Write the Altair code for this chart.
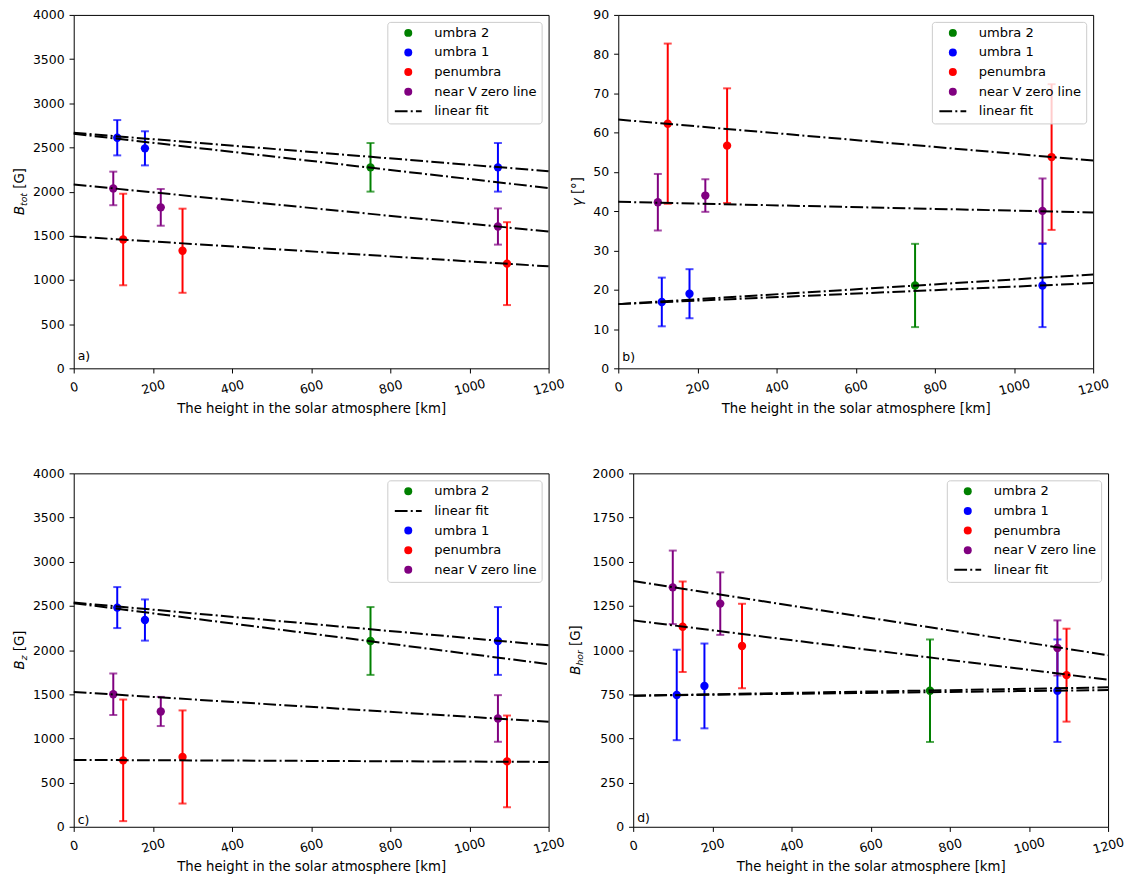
import altair as alt
import pandas as pd

# ---------------- data ----------------
heights = [110, 180, 750, 1072, 100, 220, 1072, 125, 275, 1095]
groups = ["umbra 1", "umbra 1", "umbra 2", "umbra 1",
          "near V zero line", "near V zero line", "near V zero line",
          "penumbra", "penumbra", "penumbra"]

btot_val = [2610, 2490, 2275, 2275, 2036, 1822, 1605, 1458, 1331, 1185]
btot_err = [200, 193, 275, 275, 190, 208, 205, 518, 476, 469]
gamma_val = [16.9, 19.0, 21.1, 21.1, 42.3, 44.0, 40.1, 62.3, 56.7, 53.8]
gamma_err = [6.2, 6.25, 10.6, 10.6, 7.2, 4.15, 8.25, 20.4, 14.6, 18.55]
bz_val = [2481, 2340, 2103, 2103, 1500, 1305, 1226, 752, 790, 740]
bz_err = [232, 233, 384, 384, 235, 165, 264, 688, 527, 519]
bhor_val = [746, 797, 770, 770, 1355, 1263, 1012, 1132, 1023, 858]
bhor_err = [256, 240, 290, 290, 208, 177, 156, 256, 239, 263]

fit_groups = ["umbra 1", "umbra 2", "near V zero line", "penumbra"]
fit_heights = [0, 1200]
btot_fit_start = [2666, 2655, 2081, 1492]
btot_fit_end = [2231, 2040, 1548, 1154]
gamma_fit_start = [16.35, 16.35, 42.4, 63.35]
gamma_fit_end = [21.7, 23.9, 39.7, 52.9]
bz_fit_start = [2538, 2531, 1526, 757]
bz_fit_end = [2054, 1841, 1188, 734]
bhor_fit_start = [742, 742, 1391, 1168]
bhor_fit_end = [774, 789, 971, 832]

legend_order_std = ["umbra 2", "umbra 1", "penumbra", "near V zero line", "linear fit"]
legend_order_c = ["umbra 2", "linear fit", "umbra 1", "penumbra", "near V zero line"]
group_colors = {"umbra 2": "#008000", "umbra 1": "#0000ff", "penumbra": "#ff0000",
                "near V zero line": "#800080", "linear fit": "#000000"}

x_ticks = [0, 200, 400, 600, 800, 1000, 1200]
x_title = "The height in the solar atmosphere [km]"

# ---------------- styling ----------------
W, H = 477, 355
TICK_FS = 12.5
TITLE_FS = 13.33
SUB_FS = 9.33
FIT_PATH = ("M-3.375,-0.25H-0.175V0.25H-3.375Z "
            "M0.625,-0.25H1.125V0.25H0.625Z "
            "M1.925,-0.25H3.375V0.25H1.925Z")


def panel(vals, errs, f0, f1, ymax, ystep, order, title_parts, title_x, label, label_dy):
    df = pd.DataFrame({
        "h": heights, "v": vals,
        "lo": [v - e for v, e in zip(vals, errs)],
        "hi": [v + e for v, e in zip(vals, errs)],
        "group": groups,
        "col": [group_colors[g] for g in groups],
    })
    rows = []
    for g, a, b in zip(fit_groups, f0, f1):
        rows.append({"fit": g, "h": fit_heights[0], "v": a})
        rows.append({"fit": g, "h": fit_heights[1], "v": b})
    fit = pd.DataFrame(rows)

    yvals = list(range(0, ymax + 1, ystep))

    xenc = alt.X("h:Q", scale=alt.Scale(domain=[0, 1200], nice=False, zero=False),
                 axis=alt.Axis(values=x_ticks, format="d", title=x_title, labelAngle=345,
                               labelAlign="center", labelBaseline="middle",
                               labelPadding=14, labelFlush=False, labelOverlap=False,
                               titleY=40, titleBaseline="middle"))
    yscale = alt.Scale(domain=[0, ymax], nice=False, zero=False)
    yaxis = alt.Axis(values=yvals, format="d", title=None, labelPadding=5,
                     labelFlush=False, labelOverlap=False)

    err = alt.Chart(df).mark_errorbar(ticks=True, size=8, thickness=2).encode(
        x=xenc,
        y=alt.Y("lo:Q", scale=yscale, axis=yaxis),
        y2="hi:Q",
        color=alt.Color("col:N", scale=None),
    )
    leg = alt.Legend(title=None, orient="top-right", offset=7)
    pts = alt.Chart(df).mark_point(filled=True, size=70, opacity=1).encode(
        x=xenc,
        y=alt.Y("v:Q", scale=yscale, axis=yaxis),
        color=alt.Color("group:N",
                        scale=alt.Scale(domain=order, range=[group_colors[g] for g in order]),
                        legend=leg),
        shape=alt.Shape("group:N",
                        scale=alt.Scale(domain=order,
                                        range=[FIT_PATH if g == "linear fit" else "circle" for g in order]),
                        legend=leg),
    )
    lines = alt.Chart(fit).mark_line(color="black", strokeDash=[12.8, 3.2, 2, 3.2],
                                     strokeWidth=2).encode(
        x=xenc,
        y=alt.Y("v:Q", scale=yscale, axis=yaxis),
        detail="fit:N",
    )
    lab = alt.Chart(pd.DataFrame({"t": [label]})).mark_text(
        align="left", baseline="middle", fontSize=TICK_FS, color="black").encode(
        text="t:N", x=alt.value(4), y=alt.value(H - label_dy))

    layers = [err, pts, lines, lab]
    for txt, fs, style, dx, dy in title_parts:
        layers.append(
            alt.Chart(pd.DataFrame({"t": [txt]})).mark_text(
                align="left", baseline="alphabetic", angle=270, fontSize=fs,
                fontStyle=style, color="black").encode(
                text="t:N", x=alt.value(title_x + dx), y=alt.value(H / 2 + dy))
        )
    return alt.layer(*layers).properties(width=W, height=H)


pa = panel(btot_val, btot_err, btot_fit_start, btot_fit_end, 4000, 500, legend_order_std,
           [("B", TITLE_FS, "italic", 0, 23.6), ("tot", SUB_FS, "italic", 3, 14.4),
            ("[G]", TITLE_FS, "normal", 0, -2.84)], -50, "a)", 12)
pb = panel(gamma_val, gamma_err, gamma_fit_start, gamma_fit_end, 90, 10, legend_order_std,
           [("γ", TITLE_FS, "italic", 0, 14.6), ("[°]", TITLE_FS, "normal", 0, 2.46)],
           -36, "b)", 11.6)
pc = panel(bz_val, bz_err, bz_fit_start, bz_fit_end, 4000, 500, legend_order_c,
           [("B", TITLE_FS, "italic", 0, 19.5), ("z", SUB_FS, "italic", 3, 10.3),
            ("[G]", TITLE_FS, "normal", 0, 1.16)], -50, "c)", 6.6)
pd_ = panel(bhor_val, bhor_err, bhor_fit_start, bhor_fit_end, 2000, 250, legend_order_std,
            [("B", TITLE_FS, "italic", 0, 24.8), ("hor", SUB_FS, "italic", 3, 15.6),
             ("[G]", TITLE_FS, "normal", 0, -4.1)], -53, "d)", 9.3)

row1 = alt.hconcat(pa, pb, spacing=70, bounds="flush").resolve_scale(
    color="independent", shape="independent")
row2 = alt.hconcat(pc, pd_, spacing=85, bounds="flush").resolve_scale(
    color="independent", shape="independent")

chart = alt.vconcat(row1, row2, spacing=51.5).resolve_scale(
    color="independent", shape="independent"
).properties(
    padding={"left": 4, "top": -2, "right": 0, "bottom": 0}
).configure(
    font="DejaVu Sans",
).configure_view(
    stroke="black", strokeWidth=1
).configure_axis(
    labelFont="DejaVu Sans", labelFontSize=TICK_FS, labelColor="black",
    titleFont="DejaVu Sans", titleFontSize=TITLE_FS, titleColor="black", titleFontWeight="normal",
    tickColor="black", tickSize=4.67, tickWidth=1, domain=False, grid=False,
).configure_legend(
    labelFont="DejaVu Sans", labelFontSize=13.1, labelColor="black",
    padding=4.5, rowPadding=5.7, symbolOffset=10, labelOffset=19.5,
    strokeColor="#cccccc", fillColor="rgba(255,255,255,0.8)", cornerRadius=3,
    symbolSize=64, symbolStrokeWidth=0, symbolOpacity=1,
)

chart.save("out.html", embed_options={"renderer": "svg", "actions": False})
